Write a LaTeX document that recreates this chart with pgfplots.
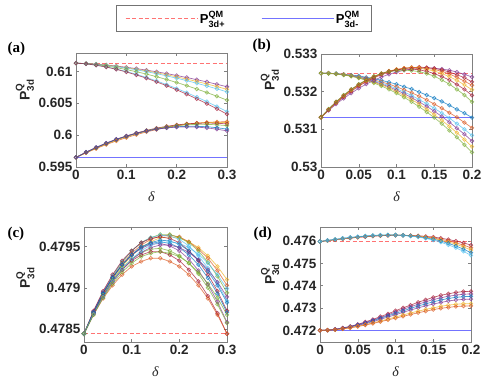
\documentclass[border=0pt]{standalone}
\usepackage{fontspec}
\setmainfont{Liberation Sans}
\newfontfamily\serif{Liberation Serif}
\usepackage{amsmath}
\usepackage{pgfplots}
\usepackage{pgfplotstable}
\pgfplotsset{compat=1.18}

\definecolor{mblue}{rgb}{0,0.447,0.741}
\definecolor{morange}{rgb}{0.85,0.325,0.098}
\definecolor{myellow}{rgb}{0.929,0.694,0.125}
\definecolor{mpurple}{rgb}{0.494,0.184,0.556}
\definecolor{mgreen}{rgb}{0.466,0.674,0.188}
\definecolor{mcyan}{rgb}{0.301,0.745,0.933}
\definecolor{mred}{rgb}{0.635,0.078,0.184}
\definecolor{refred}{rgb}{1,0.45,0.45}
\definecolor{refblue}{rgb}{0.45,0.45,1}

\pgfplotstableread{
x u1 u2 u3 u4 u5 u6
0.00 0.61130 0.61130 0.61130 0.61130 0.61130 0.61130
0.02 0.61125 0.61125 0.61124 0.61122 0.61120 0.61120
0.04 0.61115 0.61114 0.61112 0.61107 0.61100 0.61098
0.06 0.61102 0.61099 0.61096 0.61086 0.61072 0.61069
0.08 0.61085 0.61081 0.61076 0.61060 0.61038 0.61034
0.10 0.61066 0.61059 0.61052 0.61030 0.60999 0.60992
0.12 0.61045 0.61035 0.61026 0.60996 0.60955 0.60945
0.14 0.61021 0.61009 0.60997 0.60959 0.60905 0.60894
0.16 0.60995 0.60980 0.60965 0.60918 0.60852 0.60837
0.18 0.60967 0.60949 0.60931 0.60874 0.60794 0.60777
0.20 0.60937 0.60916 0.60895 0.60827 0.60733 0.60712
0.22 0.60905 0.60880 0.60856 0.60777 0.60667 0.60643
0.24 0.60871 0.60843 0.60815 0.60724 0.60598 0.60570
0.26 0.60836 0.60804 0.60772 0.60669 0.60526 0.60494
0.28 0.60799 0.60763 0.60727 0.60611 0.60449 0.60414
0.30 0.60760 0.60720 0.60680 0.60550 0.60370 0.60330
}\aU
\pgfplotstableread{
x l1 l2 l3 l4 l5 l6
0.00 0.59650 0.59650 0.59650 0.59650 0.59650 0.59650
0.02 0.59722 0.59726 0.59730 0.59730 0.59732 0.59733
0.04 0.59789 0.59796 0.59803 0.59803 0.59806 0.59809
0.06 0.59852 0.59860 0.59870 0.59870 0.59872 0.59876
0.08 0.59909 0.59919 0.59931 0.59930 0.59932 0.59936
0.10 0.59961 0.59973 0.59986 0.59983 0.59983 0.59987
0.12 0.60008 0.60020 0.60033 0.60029 0.60028 0.60031
0.14 0.60051 0.60063 0.60075 0.60069 0.60065 0.60067
0.16 0.60088 0.60099 0.60110 0.60103 0.60095 0.60094
0.18 0.60120 0.60130 0.60139 0.60129 0.60117 0.60114
0.20 0.60148 0.60155 0.60161 0.60149 0.60132 0.60126
0.22 0.60170 0.60175 0.60177 0.60163 0.60139 0.60130
0.24 0.60188 0.60189 0.60187 0.60169 0.60139 0.60126
0.26 0.60200 0.60197 0.60190 0.60169 0.60132 0.60114
0.28 0.60208 0.60200 0.60187 0.60163 0.60117 0.60094
0.30 0.60210 0.60197 0.60177 0.60149 0.60095 0.60067
}\aL
\pgfplotstableread{
x f1 f2 f3 f4 f5 f6
0.00 0.53249 0.53249 0.53249 0.53249 0.53249 0.53249
0.01 0.53249 0.53249 0.53249 0.53249 0.53249 0.53248
0.02 0.53248 0.53248 0.53248 0.53247 0.53247 0.53247
0.03 0.53246 0.53246 0.53245 0.53245 0.53245 0.53244
0.04 0.53244 0.53243 0.53242 0.53242 0.53241 0.53241
0.05 0.53242 0.53240 0.53239 0.53238 0.53237 0.53236
0.06 0.53238 0.53236 0.53234 0.53233 0.53231 0.53230
0.07 0.53235 0.53231 0.53229 0.53227 0.53225 0.53223
0.08 0.53230 0.53226 0.53223 0.53220 0.53218 0.53215
0.09 0.53225 0.53220 0.53216 0.53213 0.53210 0.53206
0.10 0.53220 0.53213 0.53208 0.53204 0.53200 0.53196
0.11 0.53213 0.53205 0.53199 0.53195 0.53190 0.53185
0.12 0.53207 0.53197 0.53190 0.53184 0.53179 0.53173
0.13 0.53199 0.53188 0.53179 0.53173 0.53167 0.53160
0.14 0.53191 0.53178 0.53168 0.53161 0.53153 0.53146
0.15 0.53183 0.53167 0.53156 0.53148 0.53139 0.53131
0.16 0.53174 0.53156 0.53143 0.53134 0.53124 0.53115
0.17 0.53164 0.53144 0.53130 0.53119 0.53108 0.53097
0.18 0.53153 0.53132 0.53115 0.53103 0.53091 0.53079
0.19 0.53143 0.53118 0.53100 0.53087 0.53073 0.53059
0.20 0.53131 0.53104 0.53084 0.53069 0.53054 0.53039
}\bF
\pgfplotstableread{
x r1 r2 r3 r4 r5 r6
0.00 0.53132 0.53132 0.53132 0.53132 0.53132 0.53132
0.01 0.53150 0.53152 0.53152 0.53153 0.53153 0.53154
0.02 0.53167 0.53170 0.53171 0.53172 0.53173 0.53173
0.03 0.53182 0.53186 0.53188 0.53189 0.53190 0.53191
0.04 0.53196 0.53201 0.53203 0.53205 0.53206 0.53206
0.05 0.53209 0.53215 0.53217 0.53218 0.53219 0.53220
0.06 0.53220 0.53226 0.53228 0.53230 0.53231 0.53231
0.07 0.53230 0.53237 0.53238 0.53240 0.53240 0.53241
0.08 0.53239 0.53245 0.53247 0.53248 0.53248 0.53248
0.09 0.53246 0.53252 0.53254 0.53255 0.53254 0.53253
0.10 0.53252 0.53258 0.53259 0.53259 0.53258 0.53256
0.11 0.53257 0.53262 0.53262 0.53262 0.53260 0.53257
0.12 0.53260 0.53264 0.53264 0.53263 0.53260 0.53256
0.13 0.53262 0.53265 0.53264 0.53262 0.53258 0.53253
0.14 0.53263 0.53264 0.53262 0.53259 0.53254 0.53248
0.15 0.53262 0.53262 0.53259 0.53255 0.53248 0.53241
0.16 0.53260 0.53258 0.53254 0.53248 0.53240 0.53231
0.17 0.53257 0.53252 0.53247 0.53240 0.53231 0.53220
0.18 0.53252 0.53245 0.53238 0.53230 0.53219 0.53206
0.19 0.53246 0.53237 0.53228 0.53218 0.53206 0.53191
0.20 0.53239 0.53226 0.53217 0.53205 0.53190 0.53173
}\bR
\pgfplotstableread{
x c1 c2 c3 c4 c5 c6 c7 c8 c9 c10
0.00 0.47844 0.47844 0.47844 0.47844 0.47844 0.47844 0.47844 0.47844 0.47844 0.47844
0.02 0.47869 0.47870 0.47871 0.47871 0.47872 0.47870 0.47871 0.47869 0.47869 0.47867
0.04 0.47891 0.47893 0.47894 0.47895 0.47896 0.47893 0.47894 0.47891 0.47890 0.47887
0.06 0.47910 0.47912 0.47914 0.47915 0.47916 0.47912 0.47913 0.47909 0.47908 0.47903
0.08 0.47926 0.47929 0.47931 0.47932 0.47933 0.47928 0.47928 0.47924 0.47922 0.47916
0.10 0.47939 0.47942 0.47945 0.47945 0.47945 0.47940 0.47940 0.47935 0.47933 0.47926
0.12 0.47949 0.47952 0.47955 0.47955 0.47955 0.47949 0.47948 0.47943 0.47940 0.47932
0.14 0.47956 0.47959 0.47961 0.47961 0.47960 0.47954 0.47953 0.47947 0.47944 0.47936
0.16 0.47961 0.47963 0.47965 0.47964 0.47962 0.47956 0.47954 0.47948 0.47944 0.47936
0.18 0.47962 0.47964 0.47965 0.47963 0.47960 0.47954 0.47951 0.47945 0.47940 0.47932
0.20 0.47961 0.47962 0.47961 0.47959 0.47955 0.47949 0.47945 0.47939 0.47933 0.47926
0.22 0.47956 0.47956 0.47955 0.47951 0.47945 0.47940 0.47935 0.47930 0.47922 0.47916
0.24 0.47949 0.47947 0.47945 0.47939 0.47933 0.47928 0.47921 0.47917 0.47908 0.47903
0.26 0.47939 0.47936 0.47931 0.47924 0.47916 0.47912 0.47904 0.47900 0.47890 0.47887
0.28 0.47926 0.47921 0.47914 0.47906 0.47896 0.47893 0.47883 0.47880 0.47869 0.47867
0.30 0.47910 0.47903 0.47894 0.47884 0.47872 0.47870 0.47858 0.47857 0.47844 0.47844
}\cT
\pgfplotstableread{
x c11 c12 c13 c14
0.00 0.47844 0.47844 0.47844 0.47844
0.02 0.47870 0.47868 0.47868 0.47867
0.04 0.47893 0.47889 0.47889 0.47888
0.06 0.47912 0.47907 0.47908 0.47905
0.08 0.47928 0.47922 0.47923 0.47919
0.10 0.47940 0.47934 0.47935 0.47930
0.12 0.47950 0.47943 0.47945 0.47938
0.14 0.47955 0.47949 0.47952 0.47942
0.16 0.47958 0.47952 0.47955 0.47944
0.18 0.47957 0.47952 0.47956 0.47942
0.20 0.47953 0.47949 0.47954 0.47938
0.22 0.47945 0.47943 0.47949 0.47930
0.24 0.47934 0.47934 0.47941 0.47919
0.26 0.47920 0.47922 0.47930 0.47905
0.28 0.47903 0.47907 0.47916 0.47888
0.30 0.47882 0.47889 0.47899 0.47867
}\cTb
\pgfplotstableread{
x u1 u2 u3 u4 u5
0.00 0.47598 0.47598 0.47598 0.47598 0.47598
0.01 0.47602 0.47602 0.47602 0.47603 0.47603
0.02 0.47606 0.47606 0.47607 0.47607 0.47608
0.03 0.47610 0.47610 0.47611 0.47612 0.47612
0.04 0.47613 0.47614 0.47615 0.47616 0.47616
0.05 0.47617 0.47617 0.47618 0.47619 0.47620
0.06 0.47619 0.47620 0.47622 0.47622 0.47623
0.07 0.47622 0.47623 0.47624 0.47625 0.47625
0.08 0.47624 0.47624 0.47626 0.47626 0.47627
0.09 0.47625 0.47626 0.47627 0.47627 0.47628
0.10 0.47626 0.47626 0.47627 0.47627 0.47627
0.11 0.47626 0.47626 0.47626 0.47626 0.47625
0.12 0.47625 0.47624 0.47624 0.47623 0.47622
0.13 0.47624 0.47622 0.47621 0.47620 0.47618
0.14 0.47621 0.47618 0.47617 0.47614 0.47612
0.15 0.47618 0.47614 0.47612 0.47608 0.47604
0.16 0.47613 0.47608 0.47604 0.47600 0.47595
0.17 0.47607 0.47601 0.47596 0.47590 0.47583
0.18 0.47600 0.47592 0.47586 0.47578 0.47570
0.19 0.47592 0.47582 0.47574 0.47564 0.47554
0.20 0.47582 0.47570 0.47560 0.47548 0.47536
}\dU
\pgfplotstableread{
x d1 d2 d3 d4 d5 d6
0.00 0.47200 0.47200 0.47200 0.47200 0.47200 0.47200
0.01 0.47201 0.47201 0.47201 0.47201 0.47201 0.47201
0.02 0.47205 0.47205 0.47204 0.47204 0.47203 0.47203
0.03 0.47211 0.47210 0.47209 0.47209 0.47207 0.47207
0.04 0.47218 0.47217 0.47216 0.47215 0.47213 0.47211
0.05 0.47227 0.47226 0.47224 0.47222 0.47219 0.47217
0.06 0.47238 0.47235 0.47233 0.47230 0.47226 0.47224
0.07 0.47249 0.47246 0.47243 0.47239 0.47234 0.47231
0.08 0.47262 0.47257 0.47254 0.47249 0.47242 0.47239
0.09 0.47274 0.47269 0.47265 0.47260 0.47251 0.47247
0.10 0.47288 0.47282 0.47276 0.47270 0.47260 0.47255
0.11 0.47301 0.47294 0.47287 0.47281 0.47269 0.47263
0.12 0.47313 0.47306 0.47299 0.47291 0.47278 0.47271
0.13 0.47326 0.47317 0.47309 0.47301 0.47286 0.47279
0.14 0.47337 0.47328 0.47319 0.47310 0.47294 0.47286
0.15 0.47348 0.47338 0.47328 0.47318 0.47301 0.47293
0.16 0.47357 0.47346 0.47336 0.47325 0.47308 0.47299
0.17 0.47364 0.47353 0.47343 0.47332 0.47313 0.47303
0.18 0.47370 0.47358 0.47348 0.47336 0.47317 0.47307
0.19 0.47374 0.47362 0.47351 0.47339 0.47319 0.47309
0.20 0.47375 0.47363 0.47352 0.47340 0.47320 0.47310
}\dL

\pgfplotsset{
  panel/.style={
    scale only axis, anchor=south west,
    axis line style={black!50, line width=0.5pt},
    tick align=inside, major tick length=3pt,
    tick style={black!50, line width=0.5pt},
    ticklabel style={font=\fontsize{13.5}{13.5}\selectfont\bfseries, color=black!85},
    /pgf/number format/assume math mode=true,
    scaled ticks=false,
    yticklabel style={/pgf/number format/.cd, fixed, precision=4},
    xticklabel style={/pgf/number format/.cd, fixed, precision=4},
    xlabel={\serif\itshape δ},
    xlabel style={font=\fontsize{14}{14}\selectfont, color=black!85, yshift=-5pt},
    ylabel={\textbf{P}$^{\text{Q}}_{\text{3d}}$},
    ylabel style={font=\fontsize{14}{14}\selectfont\bfseries, color=black!85, anchor=center},
  },
  cv/.style={#1, line width=0.7pt, mark=o, mark size=1.8pt, opacity=0.7, mark options={solid}},
  refd/.style={draw=refred, dash pattern=on 4pt off 2.5pt, line width=0.9pt, no marks},
  refs/.style={draw=refblue, line width=0.9pt, no marks},
}

\begin{document}
\begin{tikzpicture}
\useasboundingbox (0,0) rectangle (484pt,388pt);

% (a)
\begin{axis}[panel, at={(76pt,221pt)}, width=151pt, height=114pt,
  xmin=0, xmax=0.3, ymin=0.595, ymax=0.6129,
  xtick={0,0.1,0.2,0.3}, ytick={0.595,0.6,0.605,0.61},
  ylabel style={at={(rel axis cs:-0.338,0.675)}},
  legend columns=2,
  legend style={at={(1.109,1.307)}, anchor=center, draw=black!55,
    font=\fontsize{13}{13}\selectfont\bfseries, inner xsep=9pt, inner ysep=4pt,
    /tikz/every even column/.append style={column sep=34pt}},
  legend image code/.code={\draw[#1] (0pt,0pt) -- (72pt,0pt);},
]
\addplot[refd] coordinates {(0,0.6113) (0.3,0.6113)};
\addlegendentry{\textbf{P}$^{\text{QM}}_{\text{3d+}}$}
\addplot[refs] coordinates {(0,0.5965) (0.3,0.5965)};
\addlegendentry{\textbf{P}$^{\text{QM}}_{\text{3d-}}$}
\addplot[cv=mpurple, forget plot] table[x=x,y=u1]{\aU};
\addplot[cv=myellow, forget plot] table[x=x,y=u2]{\aU};
\addplot[cv=mcyan, forget plot] table[x=x,y=u3]{\aU};
\addplot[cv=mgreen, forget plot] table[x=x,y=u4]{\aU};
\addplot[cv=mcyan, forget plot] table[x=x,y=u5]{\aU};
\addplot[cv=mred, forget plot] table[x=x,y=u6]{\aU};
\addplot[cv=morange, forget plot] table[x=x,y=l1]{\aL};
\addplot[cv=myellow, forget plot] table[x=x,y=l2]{\aL};
\addplot[cv=mred, forget plot] table[x=x,y=l3]{\aL};
\addplot[cv=mgreen, forget plot] table[x=x,y=l4]{\aL};
\addplot[cv=mblue, forget plot] table[x=x,y=l5]{\aL};
\addplot[cv=mpurple, forget plot] table[x=x,y=l6]{\aL};
\end{axis}

% (b)
\begin{axis}[panel, at={(321pt,221pt)}, width=151pt, height=113pt,
  xmin=0, xmax=0.2, ymin=0.53, ymax=0.533,
  xtick={0,0.05,0.1,0.15,0.2}, ytick={0.53,0.531,0.532,0.533},
  ylabel style={at={(rel axis cs:-0.338,0.77)}},
]
\addplot[refd] coordinates {(0,0.53249) (0.2,0.53249)};
\addplot[refs] coordinates {(0,0.53132) (0.2,0.53132)};
\addplot[cv=mblue] table[x=x,y=f1]{\bF};
\addplot[cv=morange] table[x=x,y=f2]{\bF};
\addplot[cv=mcyan] table[x=x,y=f3]{\bF};
\addplot[cv=mpurple] table[x=x,y=f4]{\bF};
\addplot[cv=myellow] table[x=x,y=f5]{\bF};
\addplot[cv=mgreen] table[x=x,y=f6]{\bF};
\addplot[cv=mpurple] table[x=x,y=r1]{\bR};
\addplot[cv=mred] table[x=x,y=r2]{\bR};
\addplot[cv=morange] table[x=x,y=r3]{\bR};
\addplot[cv=myellow] table[x=x,y=r4]{\bR};
\addplot[cv=mred] table[x=x,y=r5]{\bR};
\addplot[cv=mgreen] table[x=x,y=r6]{\bR};
\end{axis}

% (c)
\begin{axis}[panel, at={(84pt,46pt)}, width=143pt, height=115pt,
  xmin=0, xmax=0.3, ymin=0.47834, ymax=0.47974,
  xtick={0,0.1,0.2,0.3}, ytick={0.4785,0.479,0.4795},
  ylabel style={at={(rel axis cs:-0.41,0.557)}},
]
\addplot[refd] coordinates {(0,0.47844) (0.3,0.47844)};
\addplot[cv=myellow] table[x=x,y=c1]{\cT};
\addplot[cv=morange] table[x=x,y=c2]{\cT};
\addplot[cv=mgreen] table[x=x,y=c3]{\cT};
\addplot[cv=mcyan] table[x=x,y=c4]{\cT};
\addplot[cv=mred] table[x=x,y=c5]{\cT};
\addplot[cv=mblue] table[x=x,y=c6]{\cT};
\addplot[cv=mpurple] table[x=x,y=c7]{\cT};
\addplot[cv=mgreen] table[x=x,y=c8]{\cT};
\addplot[cv=mred] table[x=x,y=c9]{\cT};
\addplot[cv=morange] table[x=x,y=c10]{\cT};
\addplot[cv=mblue] table[x=x,y=c11]{\cTb};
\addplot[cv=mpurple] table[x=x,y=c12]{\cTb};
\addplot[cv=mcyan] table[x=x,y=c13]{\cTb};
\addplot[cv=mgreen] table[x=x,y=c14]{\cTb};
\end{axis}

% (d)
\begin{axis}[panel, at={(320pt,46pt)}, width=151pt, height=115pt,
  xmin=0, xmax=0.2, ymin=0.47148, ymax=0.47663,
  xtick={0,0.05,0.1,0.15,0.2}, ytick={0.472,0.473,0.474,0.475,0.476},
  ylabel style={at={(rel axis cs:-0.33,0.59)}},
]
\addplot[refd] coordinates {(0,0.47598) (0.2,0.47598)};
\addplot[refs] coordinates {(0,0.47200) (0.2,0.47200)};
\addplot[cv=mred] table[x=x,y=u1]{\dU};
\addplot[cv=morange] table[x=x,y=u2]{\dU};
\addplot[cv=myellow] table[x=x,y=u3]{\dU};
\addplot[cv=mblue] table[x=x,y=u4]{\dU};
\addplot[cv=mcyan] table[x=x,y=u5]{\dU};
\addplot[cv=mred] table[x=x,y=d1]{\dL};
\addplot[cv=mpurple] table[x=x,y=d2]{\dL};
\addplot[cv=mblue] table[x=x,y=d3]{\dL};
\addplot[cv=mpurple] table[x=x,y=d4]{\dL};
\addplot[cv=myellow] table[x=x,y=d5]{\dL};
\addplot[cv=morange] table[x=x,y=d6]{\dL};
\end{axis}

\node[font=\fontsize{15}{15}\selectfont\serif\bfseries, anchor=west] at (4pt,339pt) {(a)};
\node[font=\fontsize{15}{15}\selectfont\serif\bfseries, anchor=west] at (249pt,342pt) {(b)};
\node[font=\fontsize{15}{15}\selectfont\serif\bfseries, anchor=west] at (4pt,154pt) {(c)};
\node[font=\fontsize{15}{15}\selectfont\serif\bfseries, anchor=west] at (250pt,154pt) {(d)};
\end{tikzpicture}
\end{document}
